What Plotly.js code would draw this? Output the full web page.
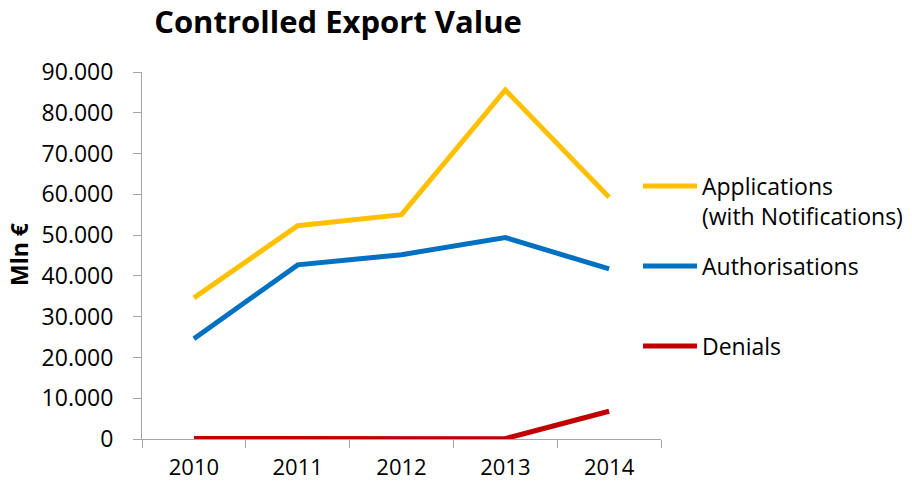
<!DOCTYPE html>
<html>
<head>
<meta charset="utf-8">
<script src="https://cdn.plot.ly/plotly-3.0.1.min.js"></script>
<style>html,body{margin:0;padding:0;background:#fff;}#chart{width:912px;height:488px;}</style>
</head>
<body>
<div id="chart"></div>
<script>
// ---- data ----
var years = ["2010", "2011", "2012", "2013", "2014"];
var seriesNames = ["Applications<br>(with Notifications)", "Authorisations", "Denials"];
var applications = [34600, 52300, 55000, 85600, 59300];
var authorisations = [24600, 42700, 45200, 49400, 41700];
var denials = [150, 150, 120, 80, 6800];
var yTicks = [0, 10000, 20000, 30000, 40000, 50000, 60000, 70000, 80000, 90000];

// ---- styles ----
var colors = ["#FFC000", "#0070C0", "#C00000"];
var font = "'Open Sans', 'DejaVu Sans', sans-serif";
var W = 912, H = 488;
var M = {l: 142, r: 251, t: 72, b: 49};
var pw = W - M.l - M.r, ph = H - M.t - M.b;
function px(x) { return (x - M.l) / pw; }
function py(y) { return (H - M.b - y) / ph; }

var values = [applications, authorisations, denials];
var traces = values.map(function (v, i) {
  return {
    x: years, y: v, type: "scatter", mode: "lines",
    name: seriesNames[i],
    line: {color: colors[i], width: 5},
    showlegend: false, hoverinfo: "x+y"
  };
});

// manual legend positioned like the original
var legendY = [186, 266, 346];
var shapes = [], annotations = [];
seriesNames.forEach(function (n, i) {
  shapes.push({type: "line", xref: "paper", yref: "paper",
    x0: px(643), x1: px(697), y0: py(legendY[i]), y1: py(legendY[i]),
    line: {color: colors[i], width: 5}});
  var multi = n.indexOf("<br>") >= 0;
  annotations.push({xref: "paper", yref: "paper", x: px(700),
    y: py(legendY[i] + (multi ? 15 : 0)), xanchor: "left", yanchor: "middle",
    align: "left", showarrow: false, text: n,
    font: {family: font, size: 23, color: "#000"}});
});
// y axis title
annotations.push({xref: "paper", yref: "paper", x: px(19), y: py(255),
  xanchor: "center", yanchor: "middle", textangle: -90, showarrow: false,
  text: "<b>Mln €</b>", font: {family: font, size: 23, color: "#000"}});

var layout = {
  width: W, height: H,
  margin: M,
  paper_bgcolor: "#fff", plot_bgcolor: "#fff",
  separators: ",.",
  title: {text: "<b>Controlled Export Value</b>", xref: "container", yref: "container",
    x: 338 / W, xanchor: "center", y: 1 - 22 / H, yanchor: "middle",
    font: {family: font, size: 31, color: "#000"}},
  xaxis: {type: "category", range: [-0.5, 4.5], tickson: "boundaries",
    ticks: "outside", ticklen: 8, tickcolor: "#A6A6A6", showline: true,
    linecolor: "#A6A6A6", linewidth: 1, showgrid: false, zeroline: false,
    tickfont: {family: font, size: 22, color: "#000"}, ticklabelstandoff: 9},
  yaxis: {range: [0, 90000], tickvals: yTicks, tickformat: ",d",
    ticks: "outside", ticklen: 8, tickcolor: "#A6A6A6", showline: true,
    linecolor: "#A6A6A6", linewidth: 1, showgrid: false, zeroline: false,
    tickfont: {family: font, size: 23, color: "#000"}, ticklabelstandoff: 15},
  shapes: shapes,
  annotations: annotations,
  showlegend: false
};

Plotly.newPlot("chart", traces, layout, {displayModeBar: false, staticPlot: true});
</script>
</body>
</html>
